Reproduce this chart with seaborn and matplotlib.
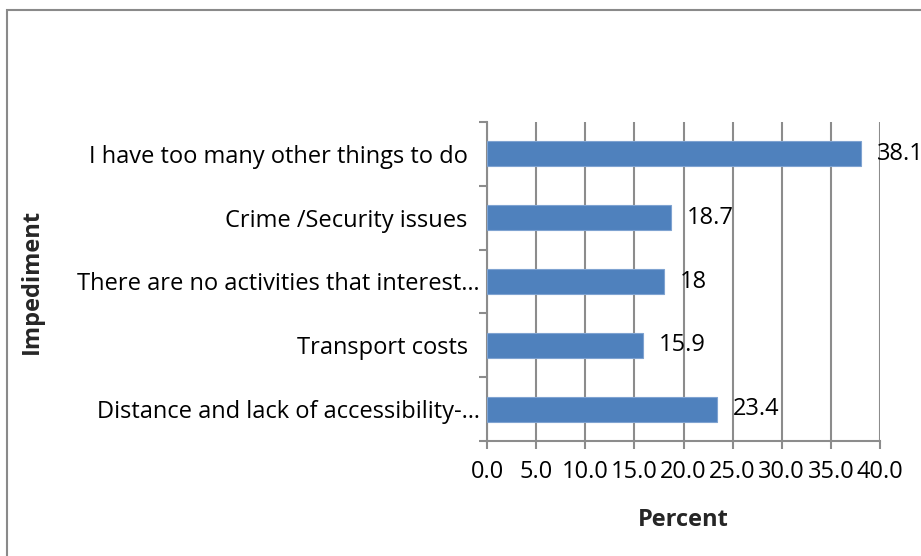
import matplotlib
matplotlib.use("Agg")
import matplotlib.pyplot as plt
from matplotlib.patches import Rectangle
import seaborn as sns
import pandas as pd
import numpy as np

# Survey results: share of respondents citing each impediment
impediments = [
    "I have too many other things to do",
    "Crime /Security issues",
    "There are no activities that interest\u2026",
    "Transport costs",
    "Distance and lack of accessibility-\u2026",
]
percent = [38.1, 18.7, 18, 15.9, 23.4]
value_labels = ["38.1", "18.7", "18", "15.9", "23.4"]
x_ticks = [0, 5, 10, 15, 20, 25, 30, 35, 40]

sns.set_theme(style="white")
plt.rcParams["font.family"] = ["Open Sans", "DejaVu Sans"]

FS = 17

df = pd.DataFrame({"Impediment": impediments, "Percent": percent})

fig = plt.figure(figsize=(9.21, 5.56), dpi=100)
ax = fig.add_axes([487 / 921, 1 - 441 / 556, 393 / 921, 319 / 556])

grid_col = "#8c8c8c"
sns.barplot(data=df, x="Percent", y="Impediment", order=impediments,
            color="#4F81BD", saturation=1, width=0.39, ax=ax, zorder=3,
            edgecolor="#7fa3d1", linewidth=0.8)

ax.set_xlim(0, 40)
ax.set_ylim(4.5, -0.5)
ax.set_xticks(x_ticks)
ax.set_xticklabels([f"{v:.1f}" for v in x_ticks], fontsize=FS, color="black")
ax.xaxis.grid(True, color=grid_col, linewidth=1.5, zorder=0)
ax.set_axisbelow(True)

# category labels at the bar centres, tick marks at category boundaries
ax.set_yticks(range(len(impediments)))
ax.set_yticklabels([t if t.endswith("\u2026") else t + "  " for t in impediments],
                   fontsize=FS, color="black")
ax.set_yticks(np.arange(-0.5, len(impediments), 1.0), minor=True)
ax.tick_params(axis="y", which="major", length=0, pad=5)
ax.tick_params(axis="y", which="minor", length=6, width=1.5, color=grid_col, left=True)
ax.tick_params(axis="x", which="major", length=6, width=1.5, color=grid_col,
               bottom=True, pad=8)

for side in ["top", "right"]:
    ax.spines[side].set_visible(False)
for side in ["left", "bottom"]:
    ax.spines[side].set_color(grid_col)
    ax.spines[side].set_linewidth(1.5)

for i, (v, lab) in enumerate(zip(percent, value_labels)):
    ax.annotate(lab, xy=(v, i), xytext=(11.5, 0), textcoords="offset points",
                va="center", ha="left", fontsize=FS, color="black",
                annotation_clip=False, zorder=1)

ax.set_xlabel("Percent", fontsize=FS, fontweight="bold", labelpad=17)
ax.set_ylabel("Impediment", fontsize=FS, fontweight="bold")
ax.yaxis.set_label_coords(-443 / 393, 0.5)

# outer chart border
fig.patches.append(Rectangle((7 / 921, -0.1), 1.2, 1 - 10 / 556 + 0.1,
                             transform=fig.transFigure, fill=False,
                             edgecolor="#8a8a8a", linewidth=1.5))

fig.savefig("out.png", dpi=100)
